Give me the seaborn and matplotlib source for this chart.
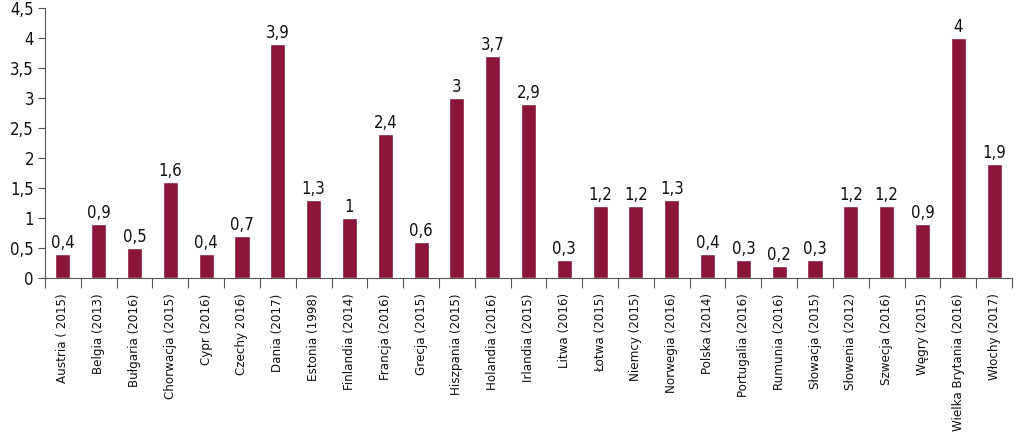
import numpy as np
import pandas as pd
import matplotlib
matplotlib.use('Agg')
import matplotlib.pyplot as plt
import seaborn as sns
from matplotlib.ticker import FixedLocator, FuncFormatter

countries = ['Austria ( 2015)', 'Belgia (2013)', 'Bułgaria (2016)', 'Chorwacja (2015)',
             'Cypr (2016)', 'Czechy 2016)', 'Dania (2017)', 'Estonia (1998)',
             'Finlandia (2014)', 'Francja (2016)', 'Grecja (2015)', 'Hiszpania (2015)',
             'Holandia (2016)', 'Irlandia (2015)', 'Litwa (2016)', 'Łotwa (2015)',
             'Niemcy (2015)', 'Norwegia (2016)', 'Polska (2014)', 'Portugalia (2016)',
             'Rumunia (2016)', 'Słowacja (2015)', 'Słowenia (2012)', 'Szwecja (2016)',
             'Węgry (2015)', 'Wielka Brytania (2016)', 'Włochy (2017)']
values = [0.4, 0.9, 0.5, 1.6, 0.4, 0.7, 3.9, 1.3, 1.0, 2.4, 0.6, 3.0, 3.7, 2.9,
          0.3, 1.2, 1.2, 1.3, 0.4, 0.3, 0.2, 0.3, 1.2, 1.2, 0.9, 4.0, 1.9]
y_ticks = [0, 0.5, 1, 1.5, 2, 2.5, 3, 3.5, 4, 4.5]

BAR = '#8b1538'

sns.set_theme(style='white')
plt.rcParams['font.family'] = ['DejaVu Sans']
plt.rcParams['font.stretch'] = 'condensed'


def pl_num(v):
    s = ('%g' % round(v, 2))
    return s.replace('.', ',')


df = pd.DataFrame({'kraj': countries, 'wartosc': values})

fig = plt.figure(figsize=(10.24, 4.33), dpi=100)
ax = fig.add_axes([45 / 1024, 1 - 278 / 433, (1012 - 45) / 1024, (278 - 8) / 433])

sns.barplot(data=df, x='kraj', y='wartosc', color=BAR, saturation=1,
            width=0.42, ax=ax)

n = len(countries)
ax.set_xlim(-0.5, n - 0.5)
ax.set_ylim(0, 4.5)
ax.set_xlabel('')
ax.set_ylabel('')

# etykiety wartości nad słupkami
for i, v in enumerate(values):
    ax.text(i, v + 0.03, pl_num(v), ha='center', va='bottom', fontsize=12, color='#111111')

ax.yaxis.set_major_locator(FixedLocator(y_ticks))
ax.yaxis.set_major_formatter(FuncFormatter(lambda v, p: pl_num(v)))
ax.tick_params(axis='y', left=True, length=5, width=0.8, color='#555555',
               labelsize=12, labelcolor='#111111', pad=3)

ax.set_xticks(range(n))
ax.set_xticklabels(countries, rotation=90, fontsize=9.5, color='#111111')
ax.tick_params(axis='x', which='major', bottom=False, length=0, pad=11)
ax.xaxis.set_minor_locator(FixedLocator(np.arange(-0.5, n, 1.0)))
ax.tick_params(axis='x', which='minor', bottom=True, length=7, width=0.8, color='#555555')

for s in ['top', 'right']:
    ax.spines[s].set_visible(False)
for s in ['left', 'bottom']:
    ax.spines[s].set_color('#555555')
    ax.spines[s].set_linewidth(0.8)

fig.savefig('out.png', dpi=100)
